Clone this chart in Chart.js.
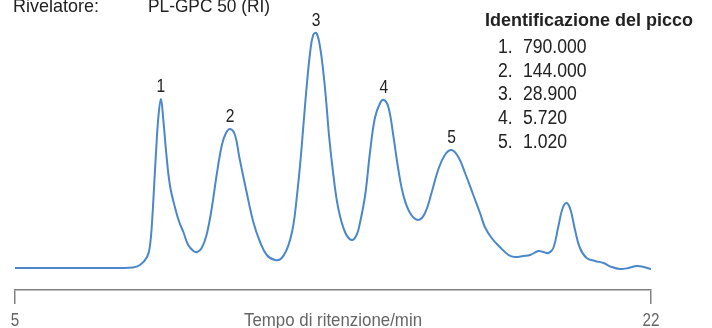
<!DOCTYPE html>
<html lang="it">
<head>
  <meta charset="UTF-8">
  <title>Cromatogramma GPC</title>
  <script src="https://cdn.jsdelivr.net/npm/chart.js"></script>
  <style>
    body { margin: 0; padding: 0; background: #ffffff; }
    .wrap { position: relative; width: 712px; height: 328px; }
  </style>
</head>
<body>
  <div class="wrap">
    <canvas id="gpcChart" width="712" height="328"></canvas>
  </div>

  <script>
    // tempo di ritenzione (min) e segnale RI
    const retentionTimes = [
      5.00, 6.20, 7.27, 8.15, 8.34, 8.53, 8.61, 8.67, 8.72, 8.77, 8.83, 8.90, 8.96, 9.04, 9.14,
      9.28, 9.39, 9.50, 9.63, 9.77, 9.87, 9.99, 10.12, 10.26, 10.39, 10.53, 10.64, 10.75, 10.88,
      11.00, 11.19, 11.37, 11.55, 11.73, 11.95, 12.13, 12.31, 12.44, 12.53, 12.62, 12.71, 12.80,
      12.89, 12.97, 13.05, 13.13, 13.22, 13.31, 13.40, 13.51, 13.64, 13.82, 14.00, 14.13, 14.22,
      14.36, 14.49, 14.62, 14.76, 14.86, 14.98, 15.11, 15.24, 15.38, 15.56, 15.78, 15.96, 16.14,
      16.31, 16.49, 16.67, 16.85, 17.03, 17.25, 17.43, 17.56, 17.74, 17.96, 18.19, 18.36, 18.59,
      18.77, 18.99, 19.12, 19.26, 19.39, 19.52, 19.64, 19.75, 19.85, 19.97, 20.10, 20.28, 20.50,
      20.73, 20.95, 21.17, 21.40, 21.62, 21.80, 22.00
    ];
    const riSignal = [
      0, 0, 0, 0.5, 3, 11, 23, 50, 83, 116, 150, 169, 150, 116, 83,
      60, 46, 36, 23, 17, 16, 20, 33, 60, 93, 123, 135, 139, 133,
      110, 76, 46, 26, 13, 8, 10, 23, 43, 70, 103, 143, 183,
      216, 233, 235, 226, 203, 170, 130, 93, 60, 36, 28, 33, 45,
      73, 116, 150, 165, 168, 161, 133, 100, 73, 55, 48, 55, 76,
      98, 113, 118, 111, 95, 73, 55, 41, 30, 21, 13, 11, 12,
      13, 17, 16, 15, 20, 41, 60, 65, 58, 38, 20, 10, 7,
      5, 1, -1, 0, 2, 1, -1
    ];

    const xTicks = [5, 22];
    const peakIds = ['1', '2', '3', '4', '5'];
    const peakTimes = [8.90, 10.75, 13.05, 14.86, 16.67];
    const peakMasses = ['790.000', '144.000', '28.900', '5.720', '1.020'];

    const FONT = "'Liberation Sans', Arial, sans-serif";

    const points = retentionTimes.map((t, i) => ({ x: t, y: riSignal[i] }));

    // testo "condensato": scala orizzontale sx
    function condText(ctx, text, x, y, size, sx, opts) {
      opts = opts || {};
      ctx.save();
      ctx.font = (opts.bold ? 'bold ' : '') + size + 'px ' + FONT;
      ctx.fillStyle = opts.color || '#222';
      ctx.textAlign = opts.align || 'left';
      ctx.textBaseline = 'alphabetic';
      if (opts.width) sx = opts.width / ctx.measureText(text).width;
      ctx.translate(x, y);
      ctx.scale(sx, 1);
      ctx.fillText(text, 0, 0);
      ctx.restore();
    }

    const annotations = {
      id: 'annotations',
      afterDraw(chart) {
        const ctx = chart.ctx;
        const xs = chart.scales.x;
        const ys = chart.scales.y;

        condText(ctx, 'Rivelatore:', 13, 12, 19, 1, { width: 86 });
        condText(ctx, 'PL-GPC 50 (RI)', 148, 12, 19, 1, { width: 122 });

        // numeri sopra i picchi
        peakIds.forEach((id, i) => {
          const idx = retentionTimes.indexOf(peakTimes[i]);
          const px = xs.getPixelForValue(peakTimes[i]);
          const py = ys.getPixelForValue(riSignal[idx]);
          condText(ctx, id, px, py - 7, 19, 0.82, { align: 'center' });
        });

        // legenda
        condText(ctx, 'Identificazione del picco', 485, 26, 19, 1, { bold: true, width: 208 });
        peakIds.forEach((id, i) => {
          const y = 53 + i * 23.7;
          condText(ctx, id + '.', 498, y, 20, 0.88);
          condText(ctx, peakMasses[i], 523, y, 20, 0.88);
        });

        // etichette e titolo asse x sulla stessa riga
        xTicks.forEach(v => {
          condText(ctx, String(v), xs.getPixelForValue(v), 325.5, 19, 0.8, { align: 'center', color: '#666' });
        });
        condText(ctx, 'Tempo di ritenzione/min', (xs.left + xs.right) / 2, 325.5, 19, 1,
          { align: 'center', color: '#666', width: 178 });
      }
    };

    new Chart(document.getElementById('gpcChart'), {
      type: 'line',
      data: {
        datasets: [{
          data: points,
          borderColor: '#4a87cb',
          borderWidth: 2,
          pointRadius: 0,
          tension: 0.4,
          fill: false
        }]
      },
      options: {
        responsive: false,
        animation: false,
        layout: { padding: { left: 15, right: 61, top: 5, bottom: 24 } },
        plugins: { legend: { display: false }, tooltip: { enabled: false } },
        scales: {
          x: {
            type: 'linear',
            min: 5,
            max: 22,
            afterBuildTicks(axis) { axis.ticks = xTicks.map(v => ({ value: v })); },
            grid: { drawOnChartArea: false, tickLength: 14, color: '#808080', lineWidth: 1.5 },
            border: { display: true, color: '#808080', width: 1.5 },
            ticks: { display: false }
          },
          y: { display: false, min: -22, max: 263 }
        }
      },
      plugins: [annotations]
    });
  </script>
</body>
</html>
